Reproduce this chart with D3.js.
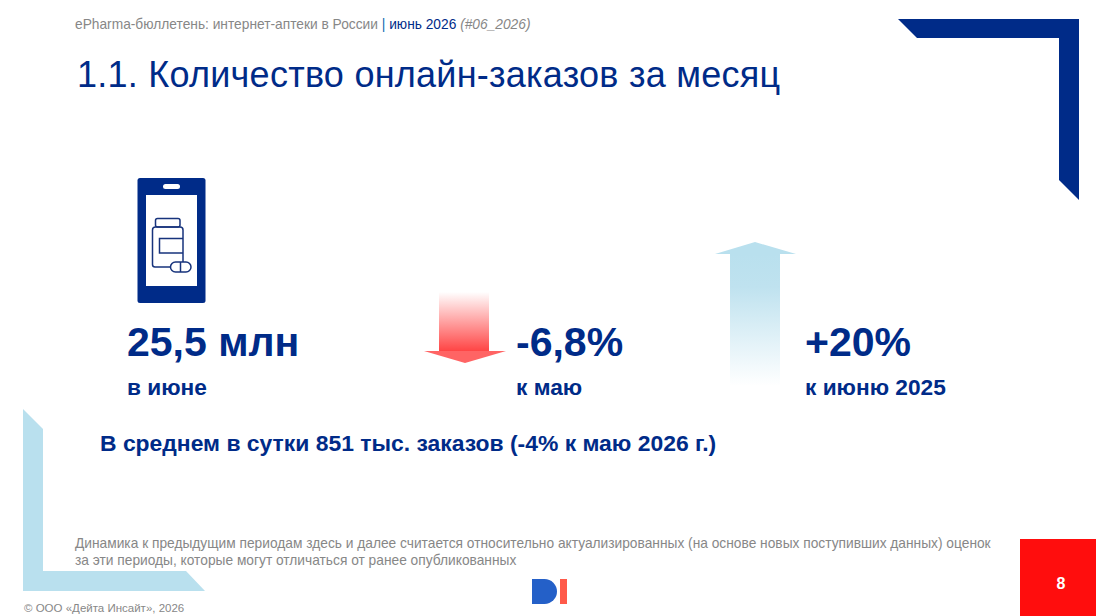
<!DOCTYPE html>
<html>
<head>
<meta charset="utf-8">
<script src="https://cdn.jsdelivr.net/npm/d3@7"></script>
<style>
    html, body { margin: 0; padding: 0; background: #fff; overflow: hidden; }
    text { font-family: "Liberation Sans", Arial, sans-serif; }
</style>
</head>
<body>
<div id="slide"></div>
<script>
// Slide values
const kpiValues = ['25,5 млн', '-6,8%', '+20%'];
const kpiLabels = ['в июне', 'к маю', 'к июню 2025'];
const kpiX = [127, 516, 805];

const bulletin = 'ePharma-бюллетень: интернет-аптеки в России ';
const period = 'июнь 2026 ';
const issue = '(#06_2026)';
const title = '1.1. Количество онлайн-заказов за месяц';
const dailyNote = 'В среднем в сутки 851 тыс. заказов (-4% к маю 2026 г.)';
const footnote = [
    'Динамика к предыдущим периодам здесь и далее считается относительно актуализированных (на основе новых поступивших данных) оценок',
    'за эти периоды, которые могут отличаться от ранее опубликованных'
];
const copyright = '© ООО «Дейта Инсайт», 2026';
const pageNumber = '8';

const navy = '#002b88';
const grey = '#878787';
const sky = '#b9e0ee';

const svg = d3.select('#slide').append('svg')
    .attr('width', 1096)
    .attr('height', 616);

const defs = svg.append('defs');

function addGradient(id, stops) {
    defs.append('linearGradient')
        .attr('id', id)
        .attr('x1', 0).attr('x2', 0).attr('y1', 0).attr('y2', 1)
        .selectAll('stop')
        .data(stops)
        .enter()
        .append('stop')
        .attr('offset', d => d[0])
        .attr('stop-color', d => d[1]);
}
addGradient('fadeRed', [[0, '#ffffff'], [1, '#ff4545']]);
addGradient('fadeSky', [[0, sky], [0.25, '#bfe2ef'], [1, '#ffffff']]);

// Corner decorations
svg.append('path')
    .attr('d', 'M898,19H1079V200L1059,180V38H917Z')
    .attr('fill', navy);
svg.append('path')
    .attr('d', 'M23,409L43,429V571H186L205,591H23Z')
    .attr('fill', sky);

// Header
const header = svg.append('text')
    .attr('x', 75)
    .attr('y', 29)
    .style('font-size', '13.76px')
    .attr('fill', grey);
header.append('tspan').text(bulletin);
header.append('tspan').attr('fill', '#0a6ab0').text('| ');
header.append('tspan').attr('fill', navy).text(period);
header.append('tspan').attr('font-style', 'italic').text(issue);

svg.append('text')
    .attr('x', 77)
    .attr('y', 87)
    .style('font-size', '36px')
    .style('letter-spacing', '0.25px')
    .attr('fill', navy)
    .text(title);

// Phone with bottle icon
const phone = svg.append('g');
phone.append('rect').attr('x', 137.5).attr('y', 178).attr('width', 68).attr('height', 125).attr('rx', 2.5).attr('fill', navy);
phone.append('rect').attr('x', 146).attr('y', 195).attr('width', 51).attr('height', 91).attr('fill', '#fff');
phone.append('rect').attr('x', 163).attr('y', 184).attr('width', 17).attr('height', 5).attr('rx', 2.5).attr('fill', '#fff');

const icon = phone.append('g')
    .attr('fill', 'none')
    .attr('stroke', '#17337c')
    .attr('stroke-width', 1.5);
icon.append('rect').attr('x', 155.5).attr('y', 218.5).attr('width', 24.5).attr('height', 8.5).attr('rx', 2);
icon.append('path').attr('d', 'M170,267H155Q152.5,267 152.5,264.5V230Q152.5,227 155.5,227H180Q183,227 183,230V262');
icon.append('path').attr('d', 'M183,238.5H159.5V253H183');
icon.append('rect').attr('x', 170.5).attr('y', 262).attr('width', 20.5).attr('height', 10).attr('rx', 5).attr('fill', '#fff');
icon.append('path').attr('d', 'M180.5,262V272');

// Arrows
svg.append('rect').attr('x', 439).attr('y', 292).attr('width', 50).attr('height', 59).attr('fill', 'url(#fadeRed)');
svg.append('path').attr('d', 'M424,351H506L465,363Z').attr('fill', '#ff6464');
svg.append('rect').attr('x', 730).attr('y', 254).attr('width', 50).attr('height', 132).attr('fill', 'url(#fadeSky)');
svg.append('path').attr('d', 'M715,254L755,242L796,254Z').attr('fill', sky);

// KPI blocks
const kpi = svg.selectAll('.kpi')
    .data(kpiValues)
    .enter()
    .append('g')
    .attr('class', 'kpi')
    .attr('fill', navy)
    .style('font-weight', 'bold');

kpi.append('text')
    .attr('x', (d, i) => kpiX[i])
    .attr('y', 356)
    .style('font-size', '41px')
    .text(d => d);

kpi.append('text')
    .attr('x', (d, i) => kpiX[i])
    .attr('y', 395)
    .style('font-size', '22.7px')
    .text((d, i) => kpiLabels[i]);

svg.append('text')
    .attr('x', 100)
    .attr('y', 451)
    .style('font-size', '22.9px')
    .style('font-weight', 'bold')
    .attr('fill', navy)
    .text(dailyNote);

// Footnote
svg.selectAll('.footnote')
    .data(footnote)
    .enter()
    .append('text')
    .attr('class', 'footnote')
    .attr('x', 75)
    .attr('y', (d, i) => 548 + i * 17)
    .style('font-size', '13.76px')
    .attr('fill', grey)
    .text(d => d);

svg.append('text')
    .attr('x', 24)
    .attr('y', 612)
    .style('font-size', '11.5px')
    .attr('fill', grey)
    .text(copyright);

// Logo
svg.append('path').attr('d', 'M532,579H544.5A12.5,12.5 0 0 1 544.5,604H532Z').attr('fill', '#2460c8');
svg.append('rect').attr('x', 560).attr('y', 579).attr('width', 7).attr('height', 25).attr('fill', '#ff5a4a');

// Page number
svg.append('rect').attr('x', 1020).attr('y', 539).attr('width', 76).attr('height', 77).attr('fill', '#ff0d0d');
svg.append('text')
    .attr('x', 1061)
    .attr('y', 589)
    .attr('text-anchor', 'middle')
    .style('font-size', '16px')
    .style('font-weight', 'bold')
    .attr('fill', '#fff')
    .text(pageNumber);
</script>
</body>
</html>
